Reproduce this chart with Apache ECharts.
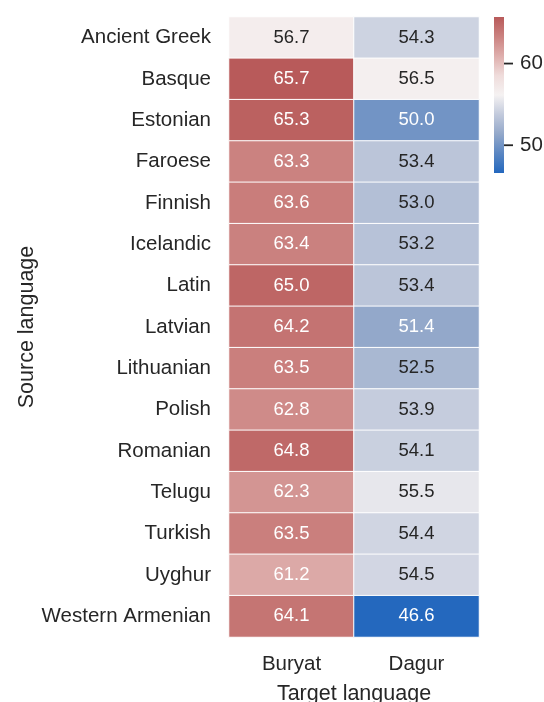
<!DOCTYPE html>
<html>
<head>
<meta charset="utf-8">
<script src="https://cdn.jsdelivr.net/npm/echarts@6/dist/echarts.min.js"></script>
<style>
  html, body { margin: 0; padding: 0; background: #fff; }
  #main { width: 544px; height: 702px; }
</style>
</head>
<body>
<div id="main"></div>
<script>
var myChart = echarts.init(document.getElementById('main'));

// 数据
var sources = ['Ancient Greek', 'Basque', 'Estonian', 'Faroese', 'Finnish', 'Icelandic', 'Latin',
    'Latvian', 'Lithuanian', 'Polish', 'Romanian', 'Telugu', 'Turkish', 'Uyghur', 'Western Armenian'];
var targets = ['Buryat', 'Dagur'];
var buryat = [56.7, 65.7, 65.3, 63.3, 63.6, 63.4, 65.0, 64.2, 63.5, 62.8, 64.8, 62.3, 63.5, 61.2, 64.1];
var dagur = [54.3, 56.5, 50.0, 53.4, 53.0, 53.2, 53.4, 51.4, 52.5, 53.9, 54.1, 55.5, 54.4, 54.5, 46.6];
var colorbarTicks = [50, 60];
var vmin = 46.6, vmax = 65.7;

// vlag 色带 (近似)
var vlag = ['#2468BE', '#5A86C2', '#93A8CA', '#C2CADC', '#F5F2F2', '#EFDCDB', '#DEAEAC', '#CB8280', '#B85A5A'];

var textColor = '#262626';
var font = '"Liberation Sans", Arial, sans-serif';

var heatData = [];
[buryat, dagur].forEach(function (col, xi) {
    col.forEach(function (v, yi) {
        var light = v > 52.2 && v < 58.5;   // 浅色格子用深色文字
        heatData.push({
            value: [xi, yi, v],
            label: { color: light ? textColor : '#ffffff' }
        });
    });
});

var stops = vlag.map(function (c, i) {
    return { offset: i / (vlag.length - 1), color: c };
});

var option = {
    backgroundColor: '#fff',
    textStyle: { fontFamily: font, color: textColor },
    grid: [
        { left: 229, top: 17, width: 250, height: 620, outerBoundsMode: 'none', containLabel: false },
        { left: 494, top: 17, width: 10, height: 156, outerBoundsMode: 'none', containLabel: false }
    ],
    xAxis: [
        {
            type: 'category',
            gridIndex: 0,
            data: targets,
            position: 'bottom',
            axisLine: { show: false },
            axisTick: { show: false },
            splitLine: { show: false },
            axisLabel: { fontSize: 20.5, color: textColor, margin: 17, fontFamily: font },
            name: 'Target language',
            nameLocation: 'middle',
            nameGap: 46,
            nameTextStyle: { fontSize: 21.5, color: textColor, fontFamily: font }
        },
        {
            type: 'value',
            gridIndex: 1,
            min: 0,
            max: 1,
            show: false
        }
    ],
    yAxis: [
        {
            type: 'category',
            gridIndex: 0,
            data: sources,
            inverse: true,
            axisLine: { show: false },
            axisTick: { show: false },
            splitLine: { show: false },
            axisLabel: { fontSize: 20.5, color: textColor, margin: 18, fontFamily: font },
            name: 'Source language',
            nameLocation: 'middle',
            nameGap: 188,
            nameRotate: 90,
            nameTextStyle: { fontSize: 21.5, color: textColor, fontFamily: font }
        },
        {
            type: 'value',
            gridIndex: 1,
            min: vmin,
            max: vmax,
            position: 'right',
            axisLine: { show: false },
            splitLine: { show: false },
            axisTick: { show: false },
            axisLabel: {
                show: true,
                customValues: colorbarTicks,
                fontSize: 20.5,
                color: textColor,
                margin: 16,
                fontFamily: font
            }
        }
    ],
    visualMap: {
        show: false,
        seriesIndex: 0,
        min: vmin,
        max: vmax,
        inRange: { color: vlag }
    },
    series: [
        {
            type: 'heatmap',
            xAxisIndex: 0,
            yAxisIndex: 0,
            data: heatData,
            label: {
                show: true,
                fontSize: 18.5,
                fontFamily: font,
                formatter: function (p) { return p.value[2].toFixed(1); }
            },
            itemStyle: { borderColor: '#ffffff', borderWidth: 1 },
            emphasis: { disabled: true }
        },
        {
            // 色条 + 刻度线
            type: 'custom',
            xAxisIndex: 1,
            yAxisIndex: 1,
            data: [[0, vmin, 1, vmax]],
            renderItem: function (params, api) {
                var p0 = api.coord([api.value(0), api.value(3)]);
                var p1 = api.coord([api.value(2), api.value(1)]);
                var children = [{
                    type: 'rect',
                    shape: { x: p0[0], y: p0[1], width: p1[0] - p0[0], height: p1[1] - p0[1] },
                    style: { fill: new echarts.graphic.LinearGradient(0, 1, 0, 0, stops) }
                }];
                colorbarTicks.forEach(function (t) {
                    var pt = api.coord([1, t]);
                    children.push({
                        type: 'line',
                        shape: { x1: pt[0], y1: pt[1], x2: pt[0] + 9, y2: pt[1] },
                        style: { stroke: '#262626', lineWidth: 1.8 }
                    });
                });
                return { type: 'group', children: children };
            },
            silent: true
        }
    ]
};

myChart.setOption(option);
</script>
</body>
</html>
